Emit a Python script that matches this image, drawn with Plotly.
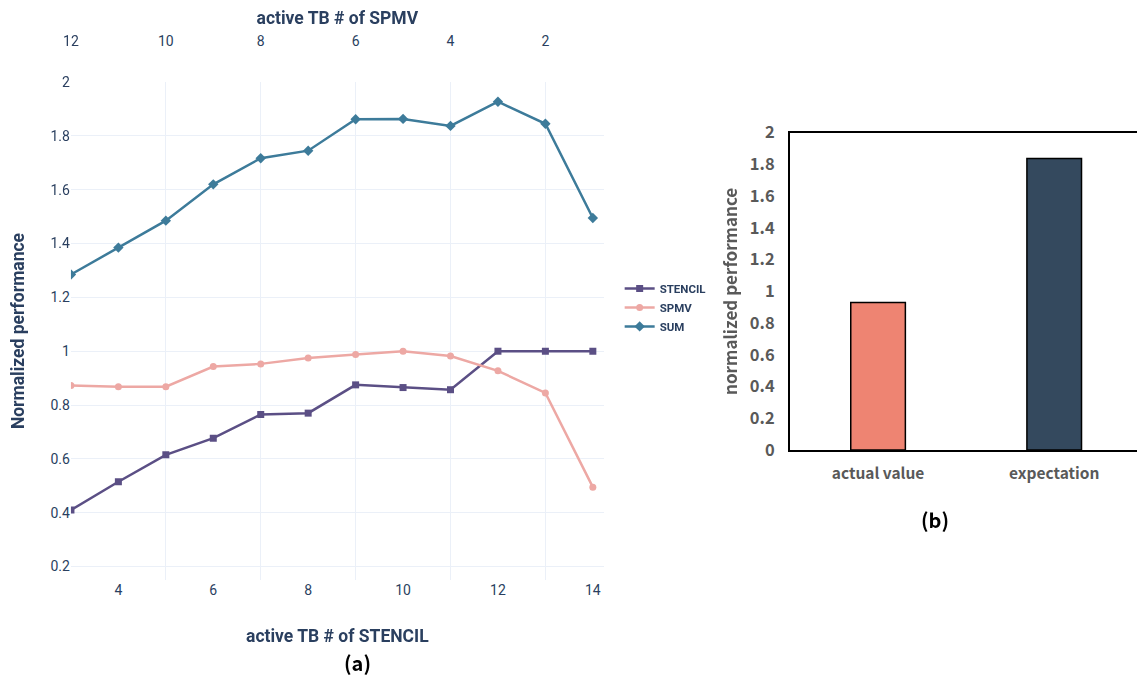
import plotly.graph_objects as go

# ---- data: panel (a) ----
stencil_tb = [3, 4, 5, 6, 7, 8, 9, 10, 11, 12, 13, 14]
spmv_tb_ticks = [12, 10, 8, 6, 4, 2]
stencil_perf = [0.41, 0.515, 0.615, 0.677, 0.765, 0.77, 0.875, 0.865, 0.857, 1.0, 1.0, 1.0]
spmv_perf = [0.873, 0.868, 0.868, 0.943, 0.953, 0.975, 0.988, 1.0, 0.982, 0.927, 0.845, 0.495]
sum_perf = [1.285, 1.385, 1.485, 1.62, 1.717, 1.745, 1.862, 1.863, 1.837, 1.927, 1.845, 1.495]

# ---- data: panel (b) ----
bar_cats = ["actual value", "expectation"]
bar_vals = [0.93, 1.838]
bar_colors = ["#EE8472", "#34495E"]

TOTAL_TB = 15  # stencil TB + spmv TB
spmv_tb = [TOTAL_TB - s for s in stencil_tb]

FONT_A = "Roboto"
FONT_B = "Noto Sans CJK KR"
C_A = "#2a3f5f"
C_B = "#595959"

fig = go.Figure()

fig.add_trace(go.Scatter(x=stencil_tb, y=stencil_perf, name="STENCIL", mode="lines+markers",
                         line=dict(color="#5B4F85", width=2.5),
                         marker=dict(symbol="square", size=7, color="#5B4F85"),
                         xaxis="x", yaxis="y"))
fig.add_trace(go.Scatter(x=stencil_tb, y=spmv_perf, name="SPMV", mode="lines+markers",
                         line=dict(color="#EDA8A4", width=2.5),
                         marker=dict(symbol="circle", size=7, color="#EDA8A4"),
                         xaxis="x", yaxis="y"))
fig.add_trace(go.Scatter(x=stencil_tb, y=sum_perf, name="SUM", mode="lines+markers",
                         line=dict(color="#3D7B9A", width=2.5),
                         marker=dict(symbol="diamond", size=8, color="#3D7B9A"),
                         xaxis="x", yaxis="y"))
# invisible trace so the top (SPMV) axis is drawn
fig.add_trace(go.Scatter(x=spmv_tb, y=sum_perf, mode="markers", opacity=0,
                         showlegend=False, hoverinfo="skip", xaxis="x2", yaxis="y"))

fig.add_trace(go.Bar(x=bar_cats, y=bar_vals, marker=dict(color=bar_colors, line=dict(color="black", width=1.5)),
                     width=0.31, showlegend=False, xaxis="x3", yaxis="y3"))

xr = [3, 14.23]
grid = "#EBF0F8"
TICK_A = dict(size=14, color=C_A, family=FONT_A)
TITLE_A = dict(size=17.5, color=C_A, family=FONT_A)

fig.update_layout(
    width=1137, height=678,
    margin=dict(l=0, r=0, t=0, b=0),
    paper_bgcolor="white", plot_bgcolor="white",
    font=dict(family=FONT_A, color=C_A, size=13),
    showlegend=True,
    legend=dict(x=0.545, y=0.596, xanchor="left", yanchor="top",
                font=dict(family=FONT_A, size=11.5, color=C_A, weight="bold"),
                tracegroupgap=0, itemwidth=30, bgcolor="rgba(0,0,0,0)"),
    xaxis=dict(domain=[0.0624, 0.531], anchor="y", range=xr, automargin=False,
               tickvals=[4, 6, 8, 10, 12, 14], showgrid=False, zeroline=False,
               ticks="", tickfont=TICK_A,
               title=dict(text="<b>active TB # of STENCIL</b>", standoff=32, font=TITLE_A)),
    xaxis2=dict(overlaying="x", anchor="y", side="top", automargin=False,
                range=[TOTAL_TB - xr[0], TOTAL_TB - xr[1]],
                tickvals=spmv_tb_ticks, showgrid=True, gridcolor=grid, gridwidth=1,
                zeroline=False, ticks="", ticklabelstandoff=32, tickfont=TICK_A,
                title=dict(text="<b>active TB # of SPMV</b>", standoff=4, font=TITLE_A)),
    yaxis=dict(domain=[0.1445, 0.879], anchor="x", range=[0.15, 2.0], automargin=False,
               tickvals=[0.2, 0.4, 0.6, 0.8, 1.0, 1.2, 1.4, 1.6, 1.8, 2.0],
               showgrid=True, gridcolor=grid, zeroline=False, ticks="", tickfont=TICK_A,
               title=dict(text="<b>Normalized performance</b>", standoff=21, font=TITLE_A)),
    xaxis3=dict(domain=[0.6948, 1.0], anchor="y3", range=[-0.5, 1.47], automargin=False,
                showline=True, linecolor="black", linewidth=2, mirror=True,
                showgrid=False, zeroline=False, ticks="", ticklabelstandoff=8,
                tickfont=dict(size=15.5, color=C_B, family=FONT_B, weight="bold")),
    yaxis3=dict(domain=[0.3363, 0.8043], anchor="x3", range=[0, 2], automargin=False,
                tickvals=[0, 0.2, 0.4, 0.6, 0.8, 1.0, 1.2, 1.4, 1.6, 1.8, 2.0],
                showline=True, linecolor="black", linewidth=2, mirror=False,
                showgrid=False, zeroline=False, ticks="", ticklabelstandoff=10,
                tickfont=dict(size=16.5, color=C_B, family=FONT_B, weight="bold"),
                title=dict(text="normalized performance", standoff=8,
                           font=dict(size=17, color=C_B, family=FONT_B, weight="bold"))),
    annotations=[
        dict(text="<b>(a)</b>", x=357 / 1137, y=1 - 662 / 678, xref="paper", yref="paper",
             showarrow=False, xanchor="center", yanchor="middle",
             font=dict(size=20, color="black", family=FONT_B)),
        dict(text="<b>(b)</b>", x=935 / 1137, y=1 - 519 / 678, xref="paper", yref="paper",
             showarrow=False, xanchor="center", yanchor="middle",
             font=dict(size=20, color="black", family=FONT_B)),
    ],
)

fig.write_html("out.html")
